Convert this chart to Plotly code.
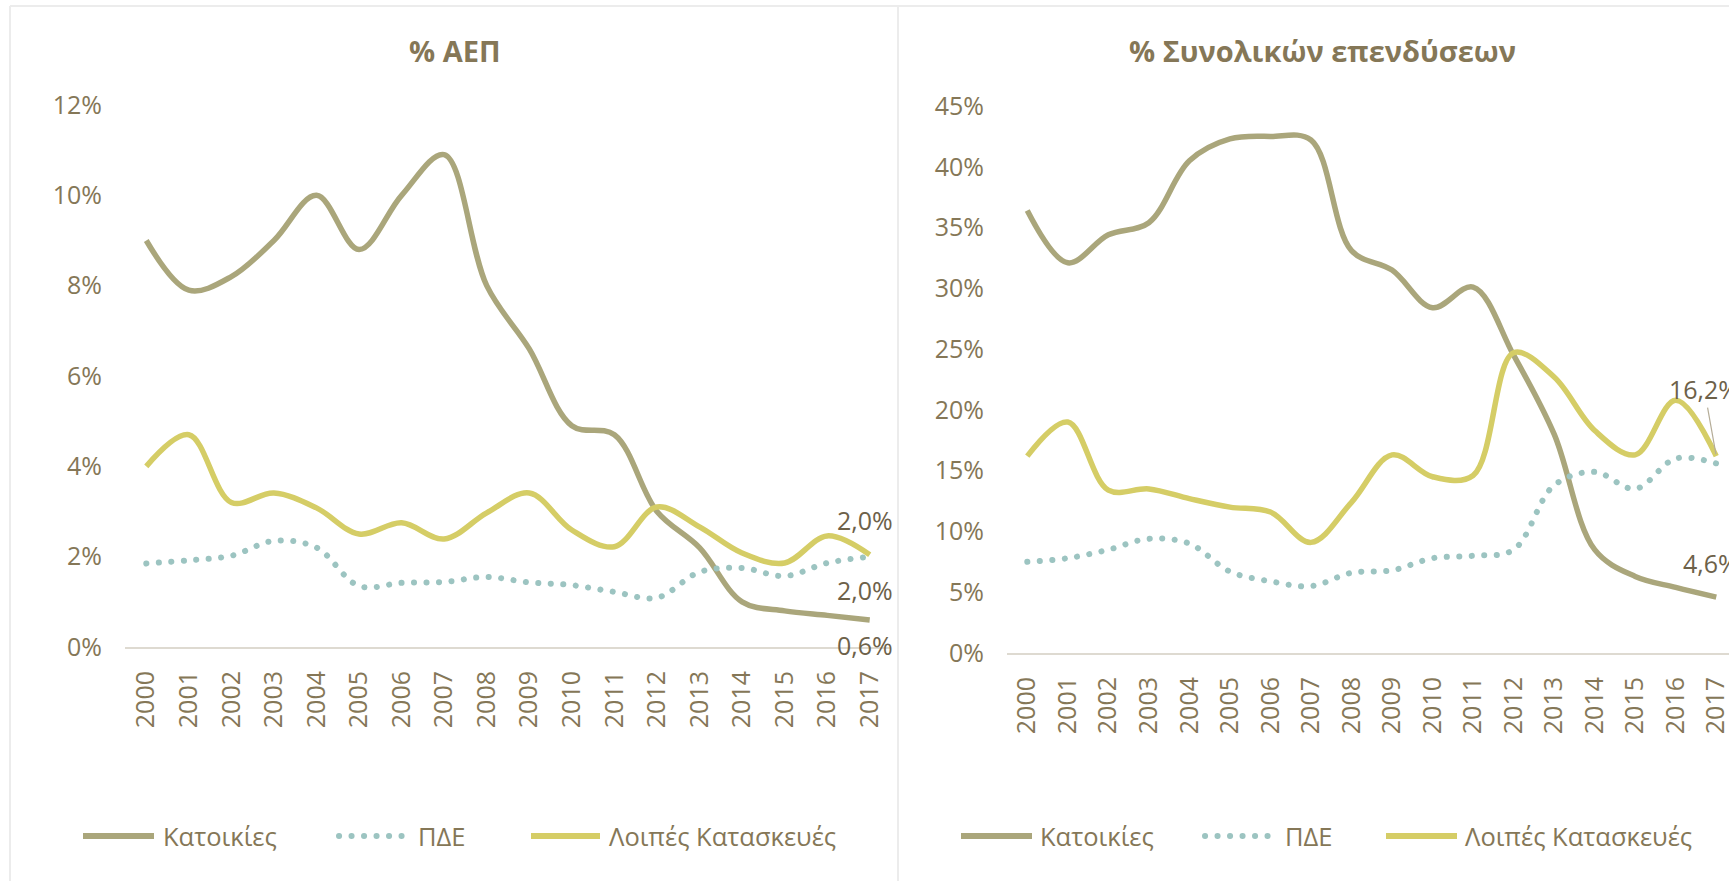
import plotly.graph_objects as go

# ---------------- data ----------------
years = ["2000", "2001", "2002", "2003", "2004", "2005", "2006", "2007", "2008",
         "2009", "2010", "2011", "2012", "2013", "2014", "2015", "2016", "2017"]
series_names = ["Κατοικίες", "ΠΔΕ", "Λοιπές Κατασκευές"]

gdp_housing = [9.0, 7.9, 8.2, 9.0, 10.0, 8.8, 10.0, 10.9, 8.0, 6.6, 4.9, 4.7, 3.0, 2.2, 1.0, 0.8, 0.7, 0.6]
gdp_pde = [1.85, 1.92, 2.02, 2.35, 2.2, 1.35, 1.42, 1.44, 1.55, 1.43, 1.37, 1.22, 1.09, 1.66, 1.75, 1.57, 1.86, 2.0]
gdp_other = [4.0, 4.7, 3.2, 3.41, 3.08, 2.5, 2.75, 2.39, 2.97, 3.41, 2.59, 2.22, 3.1, 2.66, 2.08, 1.86, 2.46, 2.04]

inv_housing = [36.4, 32.1, 34.4, 35.4, 40.5, 42.3, 42.5, 42.2, 33.1, 31.5, 28.4, 30.1, 24.5, 18.0, 8.5, 6.3, 5.4, 4.6]
inv_pde = [7.5, 7.8, 8.5, 9.4, 9.0, 6.7, 5.9, 5.5, 6.6, 6.8, 7.8, 8.0, 8.5, 13.8, 14.9, 13.5, 16.0, 15.6]
inv_other = [16.2, 19.0, 13.4, 13.5, 12.7, 12.0, 11.6, 9.1, 12.4, 16.3, 14.5, 14.6, 24.7, 22.7, 18.3, 16.3, 20.8, 16.2]

titles = ["% ΑΕΠ", "% Συνολικών επενδύσεων"]
gdp_ticks = [0, 2, 4, 6, 8, 10, 12]
inv_ticks = [0, 5, 10, 15, 20, 25, 30, 35, 40, 45]

# ---------------- style ----------------
W, H = 1729, 881
FONT = "Open Sans"
TXT = "#857757"
LBL = "#6d6149"
C_HOUSE = "#aaa67b"
C_PDE = "#9cc4c1"
C_OTHER = "#d5cd66"
AXIS_C = "#dedad1"
DOT = "4px,8.5px"


def fx(px):
    return px / W


def fy(py):
    return 1 - py / H


xidx = list(range(len(years)))

fig = go.Figure()

panels = [
    dict(xa="x", ya="y", data=[gdp_housing, gdp_pde, gdp_other]),
    dict(xa="x2", ya="y2", data=[inv_housing, inv_pde, inv_other]),
]
colors = [C_HOUSE, C_PDE, C_OTHER]
for p in panels:
    for name, vals, col in zip(series_names, p["data"], colors):
        is_dot = name == "ΠΔΕ"
        fig.add_trace(go.Scatter(
            x=xidx, y=vals, name=name, xaxis=p["xa"], yaxis=p["ya"],
            mode="lines", showlegend=False, hoverinfo="skip",
            line=dict(color=col, width=6 if is_dot else 5.5, shape="spline", smoothing=1.0,
                      dash=DOT if is_dot else "solid"),
        ))

tickfont = dict(family=FONT, size=25, color=TXT)
common_x = dict(tickmode="array", tickvals=xidx, ticktext=years, tickangle=-90,
                showline=True, linecolor=AXIS_C, linewidth=2, showgrid=False, zeroline=False,
                ticks="", tickfont=tickfont, ticklabelstandoff=12, fixedrange=True,
                ticklabeloverflow="allow", automargin=False)
common_y = dict(showline=False, showgrid=False, zeroline=False, ticks="",
                tickfont=tickfont, ticklabelstandoff=22, tickmode="array", fixedrange=True,
                automargin=False)

fig.update_layout(
    xaxis=dict(domain=[fx(125), fx(891)], range=[-0.5, 17.5], anchor="y", **common_x),
    yaxis=dict(domain=[fy(647), fy(105)], range=[0, 12], anchor="x", tickvals=gdp_ticks,
               ticktext=[f"{v}%" for v in gdp_ticks], **common_y),
    xaxis2=dict(domain=[fx(1007), 1.0], range=[-0.5, -0.5 + (W - 1007) / 40.53], anchor="y2", **common_x),
    yaxis2=dict(domain=[fy(653), fy(106)], range=[0, 45], anchor="x2", tickvals=inv_ticks,
                ticktext=[f"{v}%" for v in inv_ticks], **common_y),
)

shapes = []
annotations = []

# panel borders
BORDER = "#ececec"
shapes.append(dict(type="line", xref="paper", yref="paper", x0=fx(10), x1=fx(10), y0=fy(6), y1=0,
                   line=dict(color=BORDER, width=2)))
shapes.append(dict(type="line", xref="paper", yref="paper", x0=fx(898), x1=fx(898), y0=fy(6), y1=0,
                   line=dict(color=BORDER, width=2)))
shapes.append(dict(type="line", xref="paper", yref="paper", x0=fx(10), x1=1, y0=fy(6), y1=fy(6),
                   line=dict(color=BORDER, width=2)))

# titles
for t, cx in zip(titles, [455, 1322]):
    annotations.append(dict(text="<b>" + t + "</b>", xref="paper", yref="paper", x=fx(cx), y=fy(50),
                            xanchor="center", yanchor="middle", showarrow=False,
                            font=dict(family=FONT, size=29, color=TXT)))

# custom legends (line start, line end, text x) per item
legend_layouts = [
    [(83, 154, 161), (339, 405, 416), (531, 600, 607)],
    [(961, 1032, 1038), (1205, 1271, 1283), (1386, 1457, 1463)],
]
for lay in legend_layouts:
    for (x0, x1, tx), name, col in zip(lay, series_names, colors):
        is_dot = name == "ΠΔΕ"
        shapes.append(dict(type="line", xref="paper", yref="paper", x0=fx(x0), x1=fx(x1),
                           y0=fy(836), y1=fy(836),
                           line=dict(color=col, width=6,
                                     dash=DOT if is_dot else "solid")))
        annotations.append(dict(text=name, xref="paper", yref="paper", x=fx(tx), y=fy(836),
                                xanchor="left", yanchor="middle", showarrow=False,
                                font=dict(family=FONT, size=25.5, color=TXT)))


def pct(v):
    return f"{v:.1f}".replace(".", ",") + "%"


lab_font = dict(family=FONT, size=25, color=LBL)
last = len(years) - 1
annotations.append(dict(text=pct(gdp_other[-1]), x=last, y=gdp_other[-1], xref="x", yref="y",
                        showarrow=False, xshift=-5, yshift=35, font=lab_font))
annotations.append(dict(text=pct(gdp_pde[-1]), x=last, y=gdp_pde[-1], xref="x", yref="y",
                        showarrow=False, xshift=-5, yshift=-33, font=lab_font))
annotations.append(dict(text=pct(gdp_housing[-1]), x=last, y=gdp_housing[-1], xref="x", yref="y",
                        showarrow=False, xshift=-5, yshift=-25, font=lab_font))
annotations.append(dict(text=pct(inv_other[-1]), x=last, y=inv_other[-1], xref="x2", yref="y2",
                        showarrow=True, arrowhead=0, arrowwidth=1.2, arrowcolor="#b5ad98",
                        ax=-12, ay=-67, standoff=2, font=lab_font))
annotations.append(dict(text=pct(inv_housing[-1]), x=last, y=inv_housing[-1], xref="x2", yref="y2",
                        showarrow=False, xshift=-5, yshift=34, font=lab_font))

fig.update_layout(
    width=W, height=H, margin=dict(l=0, r=0, t=0, b=0, pad=0, autoexpand=False),
    paper_bgcolor="white", plot_bgcolor="rgba(0,0,0,0)",
    shapes=shapes, annotations=annotations, showlegend=False,
    font=dict(family=FONT, color=TXT),
)

post = """
(function(){
  document.documentElement.style.margin = '0';
  document.documentElement.style.padding = '0';
  document.documentElement.style.overflow = 'hidden';
  document.body.style.margin = '0';
  document.body.style.padding = '0';
  document.body.style.overflow = 'hidden';
  var fix = function(){
    document.querySelectorAll('path').forEach(function(p){
      var d = (p.style.strokeDasharray || '').replace(/\\s/g,'');
      if (d.indexOf('4px,8.5px') === 0 || d.indexOf('4,8.5') === 0) {
        p.style.strokeDasharray = '0.1px,12.4px';
        p.style.strokeLinecap = 'round';
      }
    });
  };
  fix();
  setTimeout(fix, 50);
})();
"""

fig.write_html("out.html", post_script=post, config={"displayModeBar": False})
